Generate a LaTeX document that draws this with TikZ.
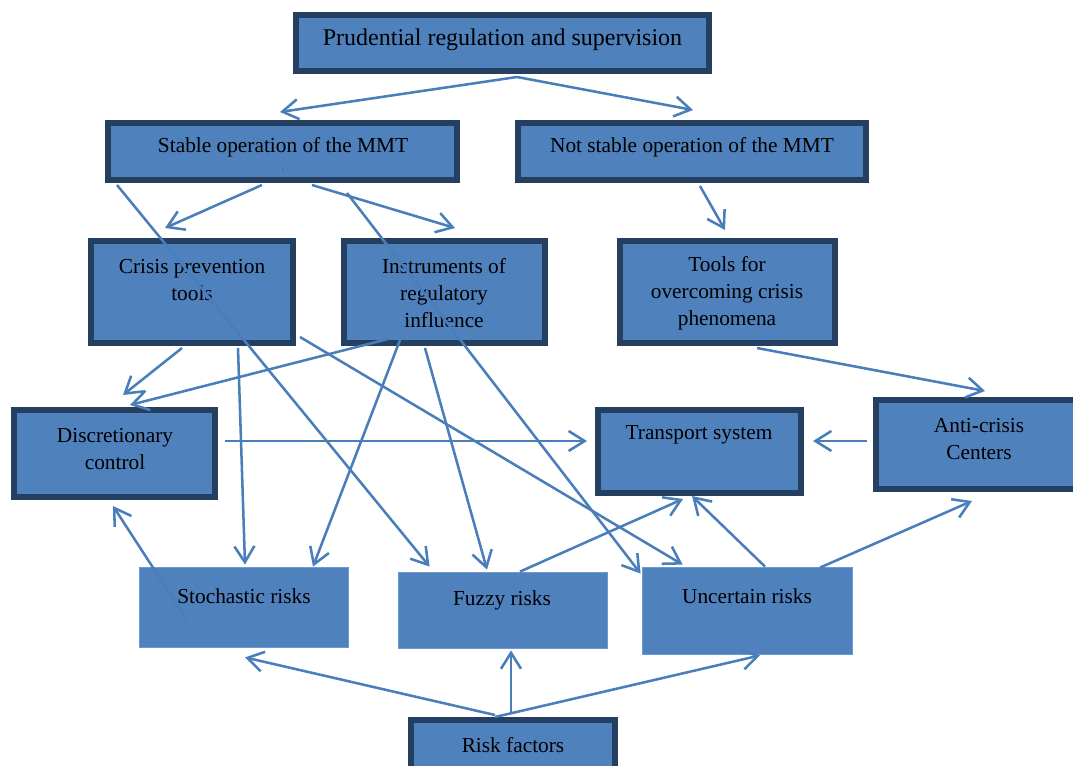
\documentclass[tikz,border=0pt]{standalone}
\usepackage{fontspec}
\setmainfont{Liberation Serif}
\usetikzlibrary{arrows.meta,calc}
\definecolor{boxfill}{HTML}{4F81BD}
\definecolor{boxedge}{HTML}{243F60}
\definecolor{conn}{HTML}{4A7EBB}
\definecolor{softedge}{HTML}{6A9AD5}
\begin{document}
\begin{tikzpicture}[x=0.75pt,y=-0.75pt,
  bbox/.style={draw=boxedge,line width=4.5pt,fill=boxfill,inner sep=0pt,minimum width=#1},
  pbox/.style={draw=softedge,line width=0.6pt,fill=boxfill,inner sep=0pt,minimum width=#1},
  txt/.style={inner sep=0pt,align=center,font=\fontsize{16}{20.25}\selectfont},
  arr/.style={draw=conn,line width=1.9pt,-{Straight Barb[length=12pt,width=15pt,line width=1.9pt]}}]
\clip (0,0) rectangle (1073,766);
\fill[white] (0,0) rectangle (1073,766);
% boxes
\node[bbox=413*0.75pt,minimum height=56*0.75pt] (pru) at (502.5,43) {};
\node[bbox=349*0.75pt,minimum height=57*0.75pt] (stable) at (282.5,151.5) {};
\node[bbox=348*0.75pt,minimum height=57*0.75pt] (notst) at (692,151.5) {};
\node[bbox=202*0.75pt,minimum height=102*0.75pt] (crisis) at (192,292) {};
\node[bbox=201*0.75pt,minimum height=102*0.75pt] (instr) at (444.5,292) {};
\node[bbox=215*0.75pt,minimum height=102*0.75pt] (tools) at (727.5,292) {};
\node[bbox=201*0.75pt,minimum height=87*0.75pt] (disc) at (114.5,453.5) {};
\node[bbox=203*0.75pt,minimum height=83*0.75pt] (trans) at (699.5,451.5) {};
\node[bbox=211*0.75pt,minimum height=89*0.75pt] (anti) at (981.5,444.5) {};
\node[pbox=209*0.75pt,minimum height=80*0.75pt] (stoch) at (243.5,607) {};
\node[pbox=209*0.75pt,minimum height=76*0.75pt] (fuzzy) at (502.5,610) {};
\node[pbox=210*0.75pt,minimum height=87*0.75pt] (unc) at (747,610.5) {};
\node[bbox=204*0.75pt,minimum height=50*0.75pt] (risk) at (513,745) {};
% texts
\node[txt,font=\fontsize{18}{22}\selectfont] (pru-t) at (502.5,40) {Prudential regulation and supervision};
\node[txt] (stable-t) at (283,147) {Stable operation of the MMT};
\node[txt,font=\tiny] (stable-d) at (283,170) {.};
\node[txt] (notst-t) at (692,147) {Not stable operation of the MMT};
\node[txt] (crisis-t) at (192,280) {Crisis prevention\\tools};
\node[txt] (instr-t) at (444,293) {Instruments of\\regulatory\\influence};
\node[txt] (tools-t) at (727,293) {Tools for\\overcoming crisis\\phenomena};
\node[txt] (disc-t) at (115,449) {Discretionary\\control};
\node[txt] (trans-t) at (699,435) {Transport system};
\node[txt] (anti-t) at (979,439) {Anti-crisis\\Centers};
\node[txt] (stoch-t) at (244,596) {Stochastic risks};
\node[txt] (fuzzy-t) at (502,600) {Fuzzy risks};
\node[txt] (unc-t) at (747,596) {Uncertain risks};
\node[txt] (risk-t) at (513,745) {Risk factors};
% connectors
\draw[arr] ($(pru.south)+(14.5,3)$) -- ($(stable.north)+(-2.5,-8)$);
\draw[arr] ($(pru.south)+(14.5,3)$) -- ($(notst.north)+(1,-10)$);
\draw[arr] ($(stable.south)+(-20.5,2)$) -- ($(crisis.north)+(-27,-10)$);
\draw[arr] ($(stable.south)+(29.5,2)$) -- ($(instr.north)+(10.5,-10)$);
\draw[arr] ($(stable.south west)+(12,2)$) -- ($(fuzzy.north west)+(32,-5)$);
\draw[arr] ($(stable.south)+(64.5,10)$) -- ($(unc.north west)+(-1,7)$);
\draw[arr] ($(notst.south)+(8,3)$) -- ($(tools.north)+(-2.5,-8)$);
\draw[arr] ($(crisis.south)+(-10,2)$) -- ($(disc.north)+(8.5,-12)$);
\draw[arr] ($(instr.south)+(-56.5,-7)$) -- ($(disc.north)+(15.5,-2)$);
\draw[arr] ($(crisis.south)+(46,2)$) -- ($(stoch.north)+(1.5,-2)$);
\draw[arr] ($(crisis.east)+(4,45)$) -- ($(unc.north west)+(41,-2)$);
\draw[arr] ($(instr.south)+(-44.5,-6)$) -- ($(stoch.north)+(69.5,0)$);
\draw[arr] ($(instr.south)+(-19.5,2)$) -- ($(fuzzy.north)+(-15.5,-2)$);
\draw[arr] ($(tools.south)+(29.5,2)$) -- ($(anti.north)+(3.5,-6)$);
\draw[arr] ($(disc.east)+(7,-12.5)$) -- ($(trans.west)+(-8,-10.5)$);
\draw[arr] ($(anti.west)+(-6,-3.5)$) -- ($(trans.east)+(9,-10.5)$);
\draw[arr] ($(stoch.center)+(-56.5,13)$) -- ($(disc.south)+(-1.5,6)$);
\draw[arr] ($(fuzzy.north)+(17.5,0)$) -- ($(trans.south)+(-16.5,3)$);
\draw[arr] ($(unc.north)+(18,0)$) -- ($(trans.south)+(-7.5,0)$);
\draw[arr] ($(unc.north)+(73,1)$) -- ($(anti.south)+(-9.5,9)$);
\draw[arr] ($(risk.north)+(-18,-2)$) -- ($(stoch.south)+(1.5,10)$);
\draw[arr] ($(risk.north)+(-2,-4)$) -- ($(fuzzy.south)+(8.5,2)$);
\draw[arr] ($(risk.north)+(-18,0)$) -- ($(unc.south)+(13,1)$);
\end{tikzpicture}
\end{document}
